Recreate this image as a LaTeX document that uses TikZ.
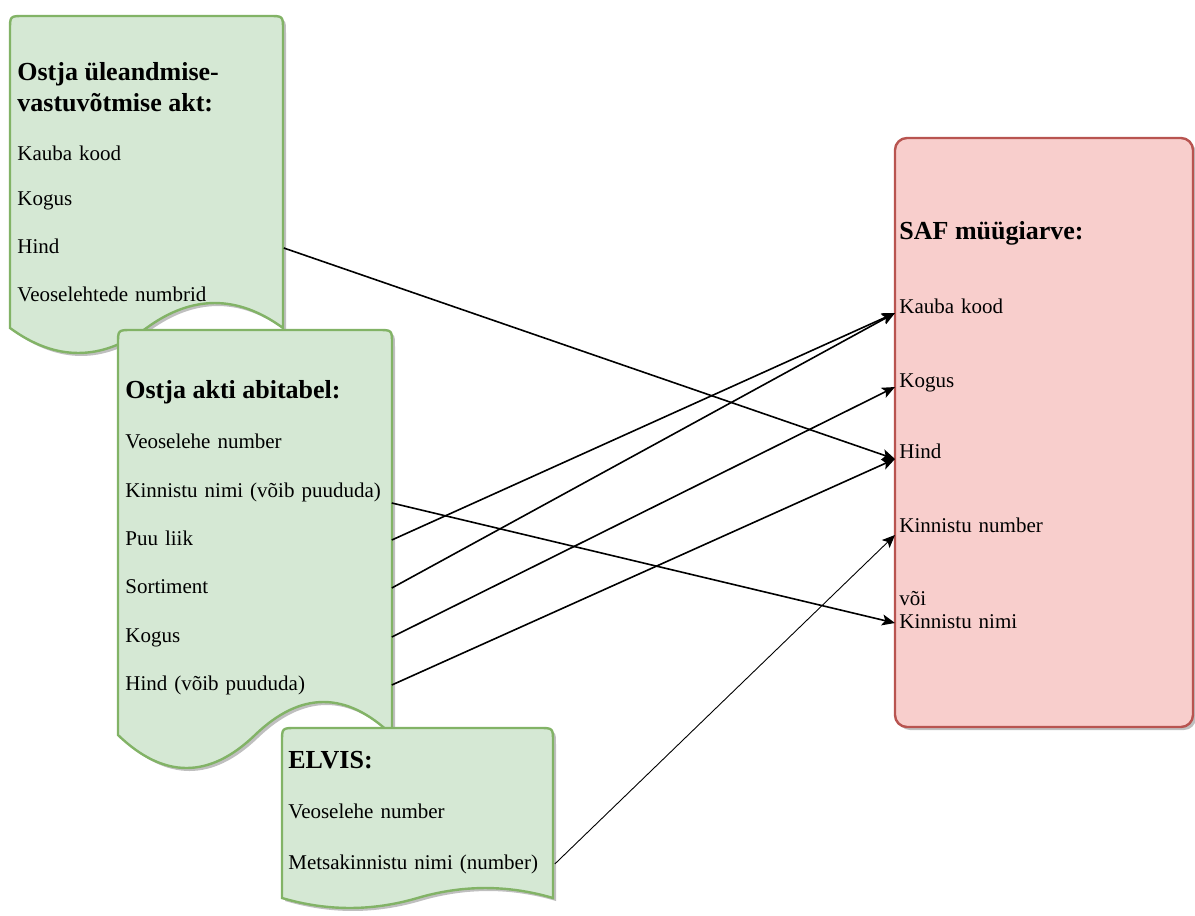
\documentclass[tikz,border=0pt]{standalone}
\usepackage{fontspec}
\setmainfont{Liberation Serif}
\usepackage{xcolor}
\usepackage{tikz}
\usetikzlibrary{arrows.meta, shadows}
\definecolor{mGreenFill}{HTML}{d5e8d4}
\definecolor{mGreenLine}{HTML}{82b366}
\definecolor{mRedFill}{HTML}{f8cecc}
\definecolor{mRedLine}{HTML}{b85450}

\begin{document}
\begin{tikzpicture}[
      x=0.5pt, y=-0.5pt,
      doc/.style={draw=mGreenLine, fill=mGreenFill, line width=1.2pt,
                  drop shadow={shadow xshift=1.5pt, shadow yshift=-1.5pt, fill=black, opacity=.25}},
      safbox/.style={draw=mRedLine, fill=mRedFill, line width=1.2pt, rounded corners=6pt,
                  drop shadow={shadow xshift=1.5pt, shadow yshift=-1.5pt, fill=black, opacity=.25}},
      head/.style={anchor=west, inner sep=0pt, align=left,
                  font=\fontsize{13}{15.5}\selectfont\bfseries},
      item/.style={anchor=west, inner sep=0pt, text width=133pt, align=left,
                  text height=1.6ex, text depth=.4ex, font=\fontsize{10.5}{12.6}\selectfont},
      arr/.style={-{Stealth[length=6.5pt, width=5.5pt, inset=1.5pt]}, line width=.8pt}
    ]
    \useasboundingbox (0,0) rectangle (1195,916);
    \path[doc] (10,328) -- (10,30) .. controls (10,16) .. (24,16) -- (269,16) .. controls (283,16) .. (283,30)
      -- (283,328) .. controls (237.5,294.7) and (192,294.7) .. (146.5,328)
      .. controls (101,361.3) and (55.5,361.3) .. (10,328) -- cycle;
    \node[head] (aT) at (17,87.5) {Ostja üleandmise-\\vastuvõtmise akt:};
    \node[item] (aKk) at (17,155) {Kauba kood};
    \node[item] (aK) at (17,200) {Kogus};
    \node[item] (aH) at (17,248) {Hind};
    \node[item] (aV) at (17,296) {Veoselehtede numbrid};

    \path[doc] (118,735) -- (118,344) .. controls (118,330) .. (132,330) -- (378,330) .. controls (392,330) .. (392,344)
      -- (392,735) .. controls (346.3,691) and (300.7,691) .. (255,735)
      .. controls (209.3,779) and (163.7,779) .. (118,735) -- cycle;
    \node[head] (bT) at (125,392) {Ostja akti abitabel:};
    \node[item] (bV) at (125,443) {Veoselehe number};
    \node[item] (bKn) at (125,492) {Kinnistu nimi (võib puududa)};
    \node[item] (bP) at (125,540) {Puu liik};
    \node[item] (bS) at (125,588) {Sortiment};
    \node[item] (bK) at (125,637) {Kogus};
    \node[item] (bH) at (125,685) {Hind (võib puududa)};

    \path[doc] (282,898) -- (282,742) .. controls (282,728) .. (296,728) -- (539,728) .. controls (553,728) .. (553,742)
      -- (553,898) .. controls (507.8,884.7) and (462.7,884.7) .. (417.5,898)
      .. controls (372.3,911.3) and (327.2,911.3) .. (282,898) -- cycle;
    \node[head] (cT) at (288,760) {ELVIS:};
    \node[item] (cV) at (288,813) {Veoselehe number};
    \node[item] (cM) at (288,864) {Metsakinnistu nimi (number)};

    \path[safbox] (895,138) rectangle (1193,727);
    \node[head] (sT) at (899,233) {SAF müügiarve:};
    \node[item, inner xsep=2pt] (sKk) at (895,308) {Kauba kood};
    \node[item, inner xsep=2pt] (sK) at (895,382) {Kogus};
    \node[item, inner xsep=2pt] (sH) at (895,453) {Hind};
    \node[item, inner xsep=2pt] (sKnr) at (895,527) {Kinnistu number};
    \node[item, inner xsep=2pt] (sVoi) at (895,600) {või};
    \node[item, inner xsep=2pt] (sKn) at (895,623) {Kinnistu nimi};

    \draw[arr] (aH.east) -- ([yshift=-3pt]sH.west);
    \draw[arr] ([yshift=-5.5pt]bKn.east) -- (sKn.west);
    \draw[arr] (bP.east) -- ([yshift=-2.5pt]sKk.west);
    \draw[arr] (bS.east) -- ([yshift=-2.5pt]sKk.west);
    \draw[arr] (bK.east) -- ([yshift=-2.5pt]sK.west);
    \draw[arr] (bH.east) -- ([yshift=-3pt]sH.west);
    \draw[arr, line width=.45pt] (cM.east) -- ([yshift=-4pt]sKnr.west);
  \end{tikzpicture}
\end{document}
